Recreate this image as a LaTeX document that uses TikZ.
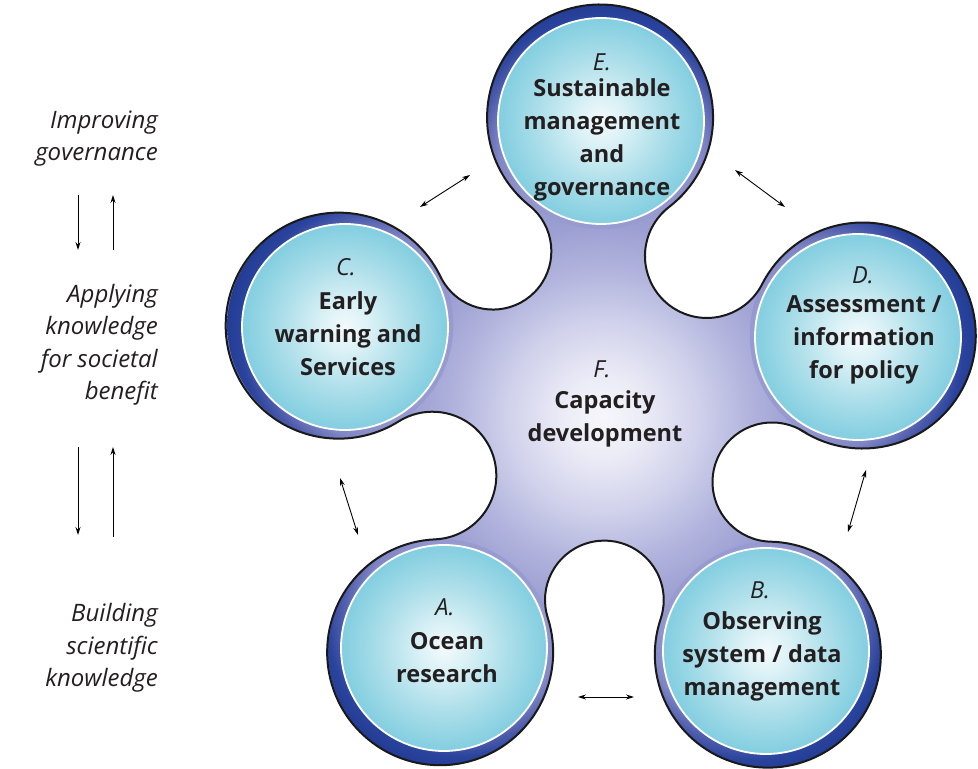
\documentclass[tikz,border=0pt]{standalone}
\usepackage{fontspec}
\setmainfont{Open Sans}
\usetikzlibrary{arrows.meta}

\definecolor{txt}{HTML}{231F20}
\definecolor{bl0}{HTML}{F6F6FB}
\definecolor{bl1}{HTML}{ECECF7}
\definecolor{bl2}{HTML}{D0D1EB}
\definecolor{bl3}{HTML}{B3B5DE}
\definecolor{bl4}{HTML}{9C9FD2}
\definecolor{bl5}{HTML}{8E91CB}
\definecolor{bl6}{HTML}{8387C5}
\definecolor{rg0}{HTML}{989BD0}
\definecolor{rg1}{HTML}{8086C5}
\definecolor{rg2}{HTML}{4E5DAC}
\definecolor{rg3}{HTML}{2A439C}
\definecolor{rg4}{HTML}{1F3890}
\definecolor{cy0}{HTML}{F3FAFC}
\definecolor{cy1}{HTML}{DAF1F6}
\definecolor{cy2}{HTML}{AEDFEA}
\definecolor{cy3}{HTML}{82CEE0}

\pgfdeclareradialshading{blobsh}{\pgfpoint{0bp}{0bp}}{color(0bp)=(bl0); color(2.5bp)=(bl1); color(6bp)=(bl2); color(9bp)=(bl3); color(12bp)=(bl4); color(16bp)=(bl5); color(25bp)=(bl6); color(50bp)=(bl6)}
\pgfdeclareradialshading{ringsh}{\pgfpoint{0bp}{0bp}}{color(0bp)=(rg0); color(12bp)=(rg0); color(16bp)=(rg1); color(19bp)=(rg2); color(21.5bp)=(rg3); color(25bp)=(rg4); color(50bp)=(rg4)}
\pgfdeclareradialshading{cyansh}{\pgfpoint{0bp}{0bp}}{color(0bp)=(cy0); color(6bp)=(cy1); color(15bp)=(cy2); color(25bp)=(cy3); color(50bp)=(cy3)}

\makeatletter
\def\Ro{11.3}\def\Off{0.5}\def\RingOff{3.5}
\newcommand\setlobe[3]{%
  \pgfmathsetmacro\bz@a{#2/10}\expandafter\let\csname L#1x\endcsname\bz@a
  \pgfmathsetmacro\bz@a{(769-#3)/10}\expandafter\let\csname L#1y\endcsname\bz@a}
\setlobe{E}{601}{121}
\setlobe{C}{345}{327}
\setlobe{D}{858}{337}
\setlobe{A}{444}{648}
\setlobe{B}{766}{651}
\pgfmathsetmacro\Fx{(\LEx+\LCx+\LDx+\LAx+\LBx)/5}
\pgfmathsetmacro\Fy{(\LEy+\LCy+\LDy+\LAy+\LBy)/5}

\newcommand\mkouter[1]{%
  \edef\bz@x{\csname L#1x\endcsname}\edef\bz@y{\csname L#1y\endcsname}%
  \pgfmathsetmacro\bz@dx{(\bz@x)-(\Fx)}\pgfmathsetmacro\bz@dy{(\bz@y)-(\Fy)}%
  \pgfmathsetmacro\bz@l{veclen(\bz@dx,\bz@dy)}%
  \pgfmathsetmacro\bz@a{\bz@x+\Off*(\bz@dx)/\bz@l}\expandafter\let\csname O#1x\endcsname\bz@a
  \pgfmathsetmacro\bz@a{\bz@y+\Off*(\bz@dy)/\bz@l}\expandafter\let\csname O#1y\endcsname\bz@a
  \pgfmathsetmacro\bz@a{\bz@x-\RingOff*(\bz@dx)/\bz@l}\expandafter\let\csname P#1x\endcsname\bz@a
  \pgfmathsetmacro\bz@a{\bz@y-\RingOff*(\bz@dy)/\bz@l}\expandafter\let\csname P#1y\endcsname\bz@a}
\mkouter{E}\mkouter{C}\mkouter{D}\mkouter{A}\mkouter{B}

\newcommand\mkbite[3]{%
  \edef\bz@ax{\csname O#1x\endcsname}\edef\bz@ay{\csname O#1y\endcsname}%
  \edef\bz@bx{\csname O#2x\endcsname}\edef\bz@by{\csname O#2y\endcsname}%
  \pgfmathsetmacro\bz@d{veclen((\bz@bx)-(\bz@ax),(\bz@by)-(\bz@ay))/2}%
  \pgfmathsetmacro\bz@mx{(\bz@ax+\bz@bx)/2}\pgfmathsetmacro\bz@my{(\bz@ay+\bz@by)/2}%
  \pgfmathsetmacro\bz@m{veclen((\Fx)-(\bz@mx),(\Fy)-(\bz@my))}%
  \pgfmathsetmacro\bz@c{\bz@m-#3/10}%
  \pgfmathsetmacro\bz@r{(\bz@c*\bz@c+\bz@d*\bz@d-\Ro*\Ro)/(2*(\bz@c+\Ro))}%
  \pgfmathsetmacro\bz@h{(\bz@c)-(\bz@r)}%
  \pgfmathsetmacro\bz@kx{\bz@mx+(\bz@h)*((\Fx)-(\bz@mx))/\bz@m}%
  \pgfmathsetmacro\bz@ky{\bz@my+(\bz@h)*((\Fy)-(\bz@my))/\bz@m}%
  \pgfmathsetmacro\bz@ta{atan2((\bz@ky)-(\bz@ay),(\bz@kx)-(\bz@ax))}%
  \pgfmathsetmacro\bz@tb{atan2((\bz@ky)-(\bz@by),(\bz@kx)-(\bz@bx))}%
  \pgfmathsetmacro\bz@sw{mod((\bz@ta)-(\bz@tb)+720,360)}%
  \pgfmathsetmacro\bz@st{(\bz@ta)+180}%
  \expandafter\let\csname ta#1#2\endcsname\bz@ta
  \expandafter\let\csname tb#1#2\endcsname\bz@tb
  \expandafter\let\csname br#1#2\endcsname\bz@r
  \expandafter\let\csname bs#1#2\endcsname\bz@st
  \expandafter\let\csname bw#1#2\endcsname\bz@sw}
\mkbite{D}{E}{130}
\mkbite{E}{C}{140}
\mkbite{C}{A}{115}
\mkbite{A}{B}{124}
\mkbite{B}{D}{122}

\newcommand\mklobe[3]{%
  \edef\bz@p{\csname ta#2#3\endcsname}\edef\bz@q{\csname tb#1#2\endcsname}%
  \pgfmathsetmacro\bz@a{mod((\bz@p)-(\bz@q)+720,360)}%
  \expandafter\let\csname lw#2\endcsname\bz@a}
\mklobe{B}{D}{E}\mklobe{D}{E}{C}\mklobe{E}{C}{A}\mklobe{C}{A}{B}\mklobe{A}{B}{D}
\pgfmathsetmacro\bzsx{\ODx+\Ro*cos(\tbBD)}
\pgfmathsetmacro\bzsy{\ODy+\Ro*sin(\tbBD)}
\makeatother

\def\blobpath{(\bzsx,\bzsy)
 arc[start angle=\tbBD, delta angle=\lwD, radius=\Ro]
 arc[start angle=\bsDE, delta angle=-\bwDE, radius=\brDE]
 arc[start angle=\tbDE, delta angle=\lwE, radius=\Ro]
 arc[start angle=\bsEC, delta angle=-\bwEC, radius=\brEC]
 arc[start angle=\tbEC, delta angle=\lwC, radius=\Ro]
 arc[start angle=\bsCA, delta angle=-\bwCA, radius=\brCA]
 arc[start angle=\tbCA, delta angle=\lwA, radius=\Ro]
 arc[start angle=\bsAB, delta angle=-\bwAB, radius=\brAB]
 arc[start angle=\tbAB, delta angle=\lwB, radius=\Ro]
 arc[start angle=\bsBD, delta angle=-\bwBD, radius=\brBD]
 -- cycle}

\newcommand\ringshade[1]{%
  \begin{scope}
    \clip (\csname O#1x\endcsname,\csname O#1y\endcsname) circle (\Ro);
    \shade[shading=ringsh] (\csname P#1x\endcsname,\csname P#1y\endcsname) circle (16);
  \end{scope}}

\tikzset{
  lobe/.style={circle, inner sep=0pt, minimum size=206pt, shading=cyansh, draw=white, line width=1.8pt},
  lettr/.style={font=\fontsize{23.5}{32}\selectfont\itshape, text=txt, inner sep=0pt},
  lbl/.style={font=\fontsize{23.5}{33}\selectfont\bfseries, text=txt, align=center, inner sep=0pt},
  side/.style={font=\fontsize{24}{32.5}\selectfont\itshape, text=txt, align=right, anchor=east, inner sep=0pt},
  dbl/.style={{Stealth[length=8pt,width=5pt]}-{Stealth[length=8pt,width=5pt]}, line width=0.9pt, black},
  sarr/.style={-{Stealth[length=8pt,width=5pt]}, line width=0.9pt, black}
}

\begin{document}
\begin{tikzpicture}[x=10pt,y=10pt]
\useasboundingbox (0,0) rectangle (97.8,76.9);
% body of capacity development
\fill[bl6] \blobpath;
\begin{scope}
  \clip \blobpath;
  \shade[shading=blobsh] (\Fx,\Fy) circle (40);
  \ringshade{E}\ringshade{C}\ringshade{D}\ringshade{A}\ringshade{B}
\end{scope}
\draw[line width=2pt, black!90] \blobpath;
% lobes
\node[lobe] (E) at (\LEx,\LEy) {};
\node[lobe] (C) at (\LCx,\LCy) {};
\node[lobe] (D) at (\LDx,\LDy) {};
\node[lobe] (A) at (\LAx,\LAy) {};
\node[lobe] (B) at (\LBx,\LBy) {};
% texts
\node[lettr] (El) at (60.2,70.7) {E.};
\node[lbl] (Et) at (60.2,62.95) {Sustainable\\management\\and\\governance};
\node[lettr] (Cl) at (34.6,50.2) {C.};
\node[lbl] (Ct) at (34.8,43.5) {Early\\warning and\\Services};
\node[lettr] (Dl) at (86.3,49.4) {D.};
\node[lbl] (Dt) at (86.4,42.9) {Assessment /\\information\\for policy};
\node[lettr] (Al) at (44.5,16.2) {A.};
\node[lbl] (At) at (44.7,11.1) {Ocean\\research};
\node[lettr] (Bl) at (76.0,17.9) {B.};
\node[lbl] (Bt) at (76.2,11.3) {Observing\\system / data\\management};
\node[lettr] (Fl) at (60.2,40.0) {F.};
\node[lbl] (Ft) at (60.5,35.0) {Capacity\\development};
% side labels
\node[side] (s1) at (15.8,63.05) {Improving\\governance};
\node[side] (s2) at (15.8,42.4) {Applying\\knowledge\\for societal\\benefit};
\node[side] (s3) at (15.8,12.1) {Building\\scientific\\knowledge};
% side arrows
\coordinate (d1a) at (7.8,57.4); \coordinate (d1b) at (7.8,51.9);
\coordinate (u1a) at (11.3,51.9); \coordinate (u1b) at (11.3,57.4);
\coordinate (d2a) at (7.8,32.2); \coordinate (d2b) at (7.8,23.4);
\coordinate (u2a) at (11.3,23.2); \coordinate (u2b) at (11.3,32.2);
\draw[sarr] (d1a) -- (d1b);
\draw[sarr] (u1a) -- (u1b);
\draw[sarr] (d2a) -- (d2b);
\draw[sarr] (u2a) -- (u2b);
% connectors between lobes
\coordinate (ce1) at (42.0,56.2); \coordinate (ce2) at (47.0,59.4);
\coordinate (ed1) at (73.5,59.9); \coordinate (ed2) at (78.5,56.2);
\coordinate (ca1) at (34.0,29.1); \coordinate (ca2) at (35.8,23.4);
\coordinate (db1) at (86.6,29.9); \coordinate (db2) at (84.8,23.7);
\coordinate (ab1) at (57.8,7.2);  \coordinate (ab2) at (63.4,7.2);
\draw[dbl] (ce1) -- (ce2);
\draw[dbl] (ed1) -- (ed2);
\draw[dbl] (ca1) -- (ca2);
\draw[dbl] (db1) -- (db2);
\draw[dbl] (ab1) -- (ab2);
\end{tikzpicture}
\end{document}
